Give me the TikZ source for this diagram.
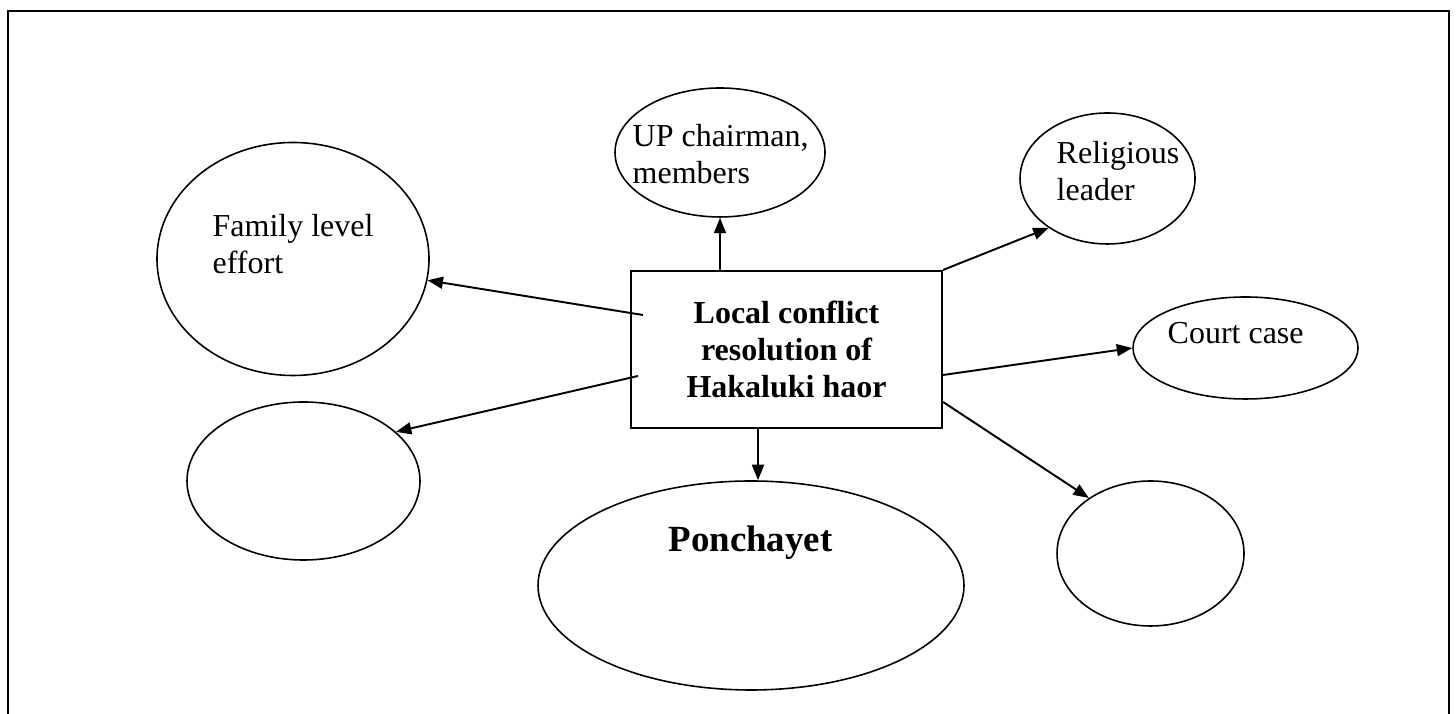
\documentclass[tikz,border=0pt]{standalone}
\usepackage{fontspec}
\setmainfont{Liberation Serif}
\usetikzlibrary{
    arrows.meta,
    positioning,
    calc,
    shapes.geometric
}
\tikzset{
    hubBox/.style={
        rectangle,
        draw=black,
        line width=0.6pt,
        minimum width=3.11cm,
        minimum height=1.57cm,
        align=center,
        font=\bfseries\fontsize{9.1}{10.5}\selectfont
    },
    bubble/.style={
        ellipse,
        draw=black,
        line width=0.45pt,
        inner sep=0pt
    },
    bubbleText/.style={
        anchor=north west,
        align=left,
        inner sep=0pt,
        font=\fontsize{9.1}{10.5}\selectfont
    },
    linkArrow/.style={
        line width=0.55pt,
        -{Triangle[length=4.4pt, width=3.4pt]}
    },
    frameLine/.style={
        line width=0.75pt
    }
}

\begin{document}
\begin{tikzpicture}
    \useasboundingbox (0,0) rectangle (14.56,7.14);
    % page frame, open at the bottom
    \draw[frameLine] (0.08,0) -- (0.08,7.03) -- (14.49,7.03) -- (14.49,0);

    \node[hubBox] (lcr) at (7.865,3.645) {Local conflict\\resolution of\\Hakaluki haor};

    % Bubbles round the hub
    \node[bubble, minimum width=2.10cm, minimum height=1.29cm] (upc) at (7.20,5.615) {};
    \node[bubble, minimum width=1.75cm, minimum height=1.31cm] (rel) at (11.075,5.355) {};
    \node[bubble, minimum width=2.72cm, minimum height=2.33cm] (fam) at (2.93,4.55) {};
    \node[bubble, minimum width=2.25cm, minimum height=1.02cm] (ctc) at (12.455,3.66) {};
    \node[bubble, minimum width=2.33cm, minimum height=1.58cm] (blkL) at (3.035,2.33) {};
    \node[bubble, minimum width=4.26cm, minimum height=2.09cm] (pon) at (7.51,1.285) {};
    \node[bubble, minimum width=1.87cm, minimum height=1.45cm] (blkR) at (11.505,1.605) {};

    % Bubble texts
    \node[bubbleText] (upcText) at (6.32,5.90) {UP chairman,\\members};
    \node[bubbleText] (relText) at (10.56,5.73) {Religious\\leader};
    \node[bubbleText] (famText) at (2.12,5.00) {Family level\\effort};
    \node[bubbleText] (ctcText) at (11.67,3.92) {Court case};
    \node[font=\bfseries\fontsize{10.5}{12}\selectfont, inner sep=0pt] (ponText) at (7.505,1.71) {Ponchayet};

    % Arrows out of the hub
    \draw[linkArrow] (lcr.north -| upc.south) -- (upc.south);
    \draw[linkArrow] (lcr.north east) -- (rel.220);
    \draw[linkArrow] ($(lcr.east)+(0,-0.255)$) -- (ctc.west);
    \draw[linkArrow] ($(lcr.east)+(0,-0.525)$) -- (blkR.138);
    \draw[linkArrow] ($(lcr.west)+(0.13,0.345)$) -- (fam.351);
    \draw[linkArrow] ($(lcr.west)+(0.08,-0.265)$) -- (blkL.28);
    \coordinate (ps) at ($(lcr.south)+(-0.285,0)$);
    \draw[linkArrow] (ps) -- (ps |- pon.north);
\end{tikzpicture}
\end{document}
